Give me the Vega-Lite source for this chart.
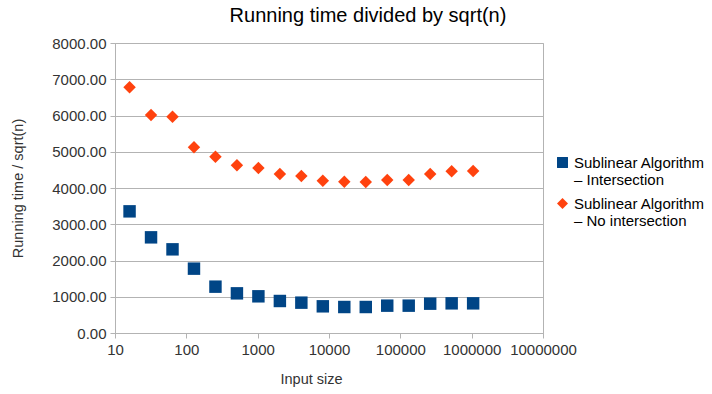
{
  "$schema": "https://vega.github.io/schema/vega-lite/v6.json",
  "width": 428,
  "height": 290,
  "autosize": {"type": "none"},
  "padding": {"left": 115, "top": 43, "right": 169, "bottom": 61},
  "background": "white",
  "title": {
    "text": "Running time divided by sqrt(n)",
    "anchor": "middle",
    "dx": 39,
    "offset": 10,
    "font": "Liberation Sans",
    "fontSize": 20,
    "fontWeight": "normal",
    "color": "#000000"
  },
  "config": {
    "font": "Liberation Sans",
    "view": {"stroke": "#b3b3b3", "strokeWidth": 1}
  },
  "data": {
    "values": [
      {"n": 16, "series": "Sublinear Algorithm|– Intersection", "v": 3356},
      {"n": 32, "series": "Sublinear Algorithm|– Intersection", "v": 2639},
      {"n": 64, "series": "Sublinear Algorithm|– Intersection", "v": 2308},
      {"n": 128, "series": "Sublinear Algorithm|– Intersection", "v": 1775},
      {"n": 256, "series": "Sublinear Algorithm|– Intersection", "v": 1278},
      {"n": 512, "series": "Sublinear Algorithm|– Intersection", "v": 1094},
      {"n": 1024, "series": "Sublinear Algorithm|– Intersection", "v": 1012},
      {"n": 2048, "series": "Sublinear Algorithm|– Intersection", "v": 883},
      {"n": 4096, "series": "Sublinear Algorithm|– Intersection", "v": 837},
      {"n": 8192, "series": "Sublinear Algorithm|– Intersection", "v": 736},
      {"n": 16384, "series": "Sublinear Algorithm|– Intersection", "v": 717},
      {"n": 32768, "series": "Sublinear Algorithm|– Intersection", "v": 717},
      {"n": 65536, "series": "Sublinear Algorithm|– Intersection", "v": 754},
      {"n": 131072, "series": "Sublinear Algorithm|– Intersection", "v": 754},
      {"n": 262144, "series": "Sublinear Algorithm|– Intersection", "v": 809},
      {"n": 524288, "series": "Sublinear Algorithm|– Intersection", "v": 818},
      {"n": 1048576, "series": "Sublinear Algorithm|– Intersection", "v": 818},
      {"n": 16, "series": "Sublinear Algorithm|– No intersection", "v": 6778},
      {"n": 32, "series": "Sublinear Algorithm|– No intersection", "v": 6014},
      {"n": 64, "series": "Sublinear Algorithm|– No intersection", "v": 5968},
      {"n": 128, "series": "Sublinear Algorithm|– No intersection", "v": 5122},
      {"n": 256, "series": "Sublinear Algorithm|– No intersection", "v": 4864},
      {"n": 512, "series": "Sublinear Algorithm|– No intersection", "v": 4625},
      {"n": 1024, "series": "Sublinear Algorithm|– No intersection", "v": 4552},
      {"n": 2048, "series": "Sublinear Algorithm|– No intersection", "v": 4386},
      {"n": 4096, "series": "Sublinear Algorithm|– No intersection", "v": 4331},
      {"n": 8192, "series": "Sublinear Algorithm|– No intersection", "v": 4202},
      {"n": 16384, "series": "Sublinear Algorithm|– No intersection", "v": 4175},
      {"n": 32768, "series": "Sublinear Algorithm|– No intersection", "v": 4166},
      {"n": 65536, "series": "Sublinear Algorithm|– No intersection", "v": 4221},
      {"n": 131072, "series": "Sublinear Algorithm|– No intersection", "v": 4221},
      {"n": 262144, "series": "Sublinear Algorithm|– No intersection", "v": 4386},
      {"n": 524288, "series": "Sublinear Algorithm|– No intersection", "v": 4460},
      {"n": 1048576, "series": "Sublinear Algorithm|– No intersection", "v": 4469}
    ]
  },
  "mark": {"type": "point", "filled": true, "opacity": 1},
  "encoding": {
    "x": {
      "field": "n",
      "type": "quantitative",
      "scale": {"type": "log", "domain": [10, 10000000], "nice": false},
      "axis": {
        "title": "Input size",
        "titleFont": "Liberation Sans",
        "titleFontSize": 14.5,
        "titleFontWeight": "normal",
        "titleColor": "#333333",
        "titleX": 196,
        "titlePadding": 15,
        "values": [10, 100, 1000, 10000, 100000, 1000000, 10000000],
        "format": "d",
        "labelFontSize": 15,
        "labelColor": "#333333",
        "labelPadding": 4,
        "labelFlush": false,
        "labelOverlap": false,
        "grid": false,
        "domainColor": "#b3b3b3",
        "tickColor": "#b3b3b3",
        "tickSize": 5
      }
    },
    "y": {
      "field": "v",
      "type": "quantitative",
      "scale": {"domain": [0, 8000], "nice": false},
      "axis": {
        "title": "Running time / sqrt(n)",
        "titleFont": "Liberation Sans",
        "titleFontSize": 14.5,
        "titleFontWeight": "normal",
        "titleColor": "#333333",
        "titlePadding": 26,
        "values": [0, 1000, 2000, 3000, 4000, 5000, 6000, 7000, 8000],
        "format": ".2f",
        "labelFontSize": 15,
        "labelColor": "#333333",
        "labelPadding": 4,
        "grid": true,
        "gridColor": "#b3b3b3",
        "domainColor": "#b3b3b3",
        "tickColor": "#b3b3b3",
        "tickSize": 5
      }
    },
    "color": {
      "field": "series",
      "type": "nominal",
      "scale": {"range": ["#004586", "#ff420e"]},
      "legend": {
        "title": null,
        "orient": "none",
        "legendX": 440,
        "legendY": 112,
        "labelExpr": "split(datum.label, '|')",
        "labelFontSize": 15,
        "labelColor": "#000000",
        "labelLimit": 300,
        "rowPadding": 8,
        "symbolSize": 120
      }
    },
    "shape": {
      "field": "series",
      "type": "nominal",
      "scale": {"range": ["square", "diamond"]},
      "legend": null
    },
    "size": {"value": 155}
  }
}
